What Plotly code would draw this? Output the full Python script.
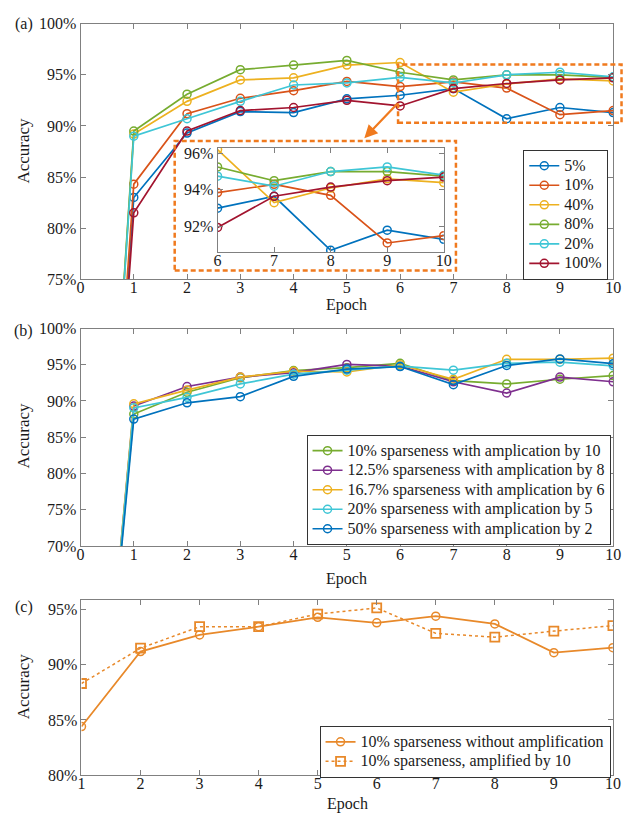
import plotly.graph_objects as go

W, H = 631, 820

# ---------------- data ----------------
epochs = [0, 1, 2, 3, 4, 5, 6, 7, 8, 9, 10]
epochs_c = [1, 2, 3, 4, 5, 6, 7, 8, 9, 10]

# panel (a)
a_names = ["5%", "10%", "40%", "80%", "20%", "100%"]
a_5 = [10, 83.0, 89.3, 91.4, 91.3, 92.65, 93.0, 93.65, 90.7, 91.8, 91.3]
a_10 = [10, 84.3, 91.2, 92.7, 93.45, 94.35, 93.85, 94.3, 93.7, 91.1, 91.5]
a_40 = [10, 89.2, 92.4, 94.5, 94.7, 95.95, 96.2, 93.3, 94.1, 94.6, 94.4]
a_80 = [10, 89.5, 93.1, 95.5, 95.95, 96.4, 95.25, 94.5, 95.0, 95.0, 94.75]
a_20 = [10, 89.0, 90.7, 92.4, 94.0, 94.2, 94.75, 94.2, 95.0, 95.25, 94.8]
a_100 = [10, 81.5, 89.5, 91.5, 91.8, 92.5, 91.95, 93.65, 94.15, 94.5, 94.7]
a_series = [a_5, a_10, a_40, a_80, a_20, a_100]
a_colors = ["#0072BD", "#D95319", "#EDB120", "#77AC30", "#3FC6D6", "#A2142F"]

# inset tick labels
inset_ticks = [92, 94, 96]
inset_ticktext = ["92%", "94%", "96%"]

# panel (b)
b_names = ["10% sparseness with amplication by 10",
           "12.5% sparseness with amplication by 8",
           "16.7% sparseness with amplication by 6",
           "20% sparseness with amplication by 5",
           "50% sparseness with amplication by 2"]
b_10 = [10, 88.2, 91.2, 93.2, 94.2, 94.6, 95.2, 92.8, 92.35, 93.0, 93.5]
b_125 = [10, 89.3, 92.0, 93.3, 93.9, 95.05, 94.8, 92.65, 91.1, 93.3, 92.65]
b_167 = [10, 89.6, 91.5, 93.3, 94.1, 94.0, 95.0, 93.0, 95.75, 95.75, 95.9]
b_20 = [10, 89.05, 90.5, 92.35, 93.7, 94.25, 94.8, 94.25, 95.2, 95.35, 94.85]
b_50 = [10, 87.5, 89.75, 90.6, 93.4, 94.4, 94.75, 92.25, 94.9, 95.8, 95.15]
b_series = [b_10, b_125, b_167, b_20, b_50]
b_colors = ["#77AC30", "#7E2F8E", "#EDB120", "#3FC6D6", "#0072BD"]

# panel (c)
c_names = ["10% sparseness without amplification", "10% sparseness, amplified by 10"]
c_no = [84.4, 91.2, 92.7, 93.45, 94.3, 93.8, 94.4, 93.7, 91.1, 91.55]
c_amp = [88.3, 91.5, 93.45, 93.45, 94.6, 95.15, 92.85, 92.5, 93.05, 93.55]
c_color = "#E8892A"
box_color = "#F07A1E"

FONT = "Times New Roman, Liberation Serif, Tinos, serif"
TXT = "#1a1a1a"
AX = "#808080"
LEG_FS = 12.7   # controls legend row spacing
NAME_FS = 16    # actual legend text size


def px(x):
    return x / W


def py(y):
    return 1 - y / H


def lname(s):
    return '<span style="font-size:%dpx">%s</span>' % (NAME_FS, s)


fig = go.Figure()

mk = lambda col: dict(symbol="circle-open", size=8, color=col, line=dict(width=1.5))

# panel (a) main
for name, ys, col in zip(a_names, a_series, a_colors):
    fig.add_trace(go.Scatter(x=epochs, y=ys, name=lname(name), mode="lines+markers",
                             line=dict(color=col, width=1.7), marker=mk(col),
                             xaxis="x", yaxis="y", legend="legend"))
# inset
for name, ys, col in zip(a_names, a_series, a_colors):
    fig.add_trace(go.Scatter(x=epochs[6:], y=ys[6:], name=name, mode="lines+markers",
                             line=dict(color=col, width=1.7), marker=mk(col),
                             xaxis="x4", yaxis="y4", showlegend=False))
# panel (b)
for name, ys, col in zip(b_names, b_series, b_colors):
    fig.add_trace(go.Scatter(x=epochs, y=ys, name=lname(name), mode="lines+markers",
                             line=dict(color=col, width=1.7), marker=mk(col),
                             xaxis="x2", yaxis="y2", legend="legend2"))
# panel (c)
fig.add_trace(go.Scatter(x=epochs_c, y=c_no, name=lname(c_names[0]), mode="lines+markers",
                         line=dict(color=c_color, width=1.8), marker=mk(c_color),
                         xaxis="x3", yaxis="y3", legend="legend3"))
fig.add_trace(go.Scatter(x=epochs_c, y=c_amp, name=lname(c_names[1]), mode="lines+markers",
                         line=dict(color=c_color, width=1.5, dash="dot"),
                         marker=dict(symbol="square-open", size=9, color=c_color, line=dict(width=1.8)),
                         xaxis="x3", yaxis="y3", legend="legend3"))

tickfont = dict(family=FONT, size=16, color=TXT)


def ax_common(**kw):
    d = dict(showline=True, linecolor=AX, linewidth=1, mirror="ticks", ticks="inside",
             ticklen=5, tickcolor=AX, tickwidth=1, showgrid=False, zeroline=False,
             tickfont=tickfont, fixedrange=True)
    d.update(kw)
    return d


def leg(x, y):
    return dict(x=px(x), y=py(y), xanchor="right", yanchor="top", bgcolor="white",
                bordercolor="#333", borderwidth=1, font=dict(family=FONT, size=LEG_FS, color=TXT),
                tracegroupgap=0, itemwidth=30)


fig.update_layout(
    width=W, height=H, margin=dict(l=0, r=0, t=0, b=0),
    paper_bgcolor="white", plot_bgcolor="white",
    font=dict(family=FONT, size=16, color=TXT),
    xaxis=ax_common(domain=[px(78), px(621)], range=[0, 10], dtick=1, anchor="y", ticklabelstandoff=-6),
    yaxis=ax_common(domain=[py(277), py(16)], range=[75, 100], dtick=5, ticksuffix="%", anchor="x"),
    xaxis2=ax_common(domain=[px(78), px(621)], range=[0, 10], dtick=1, anchor="y2", ticklabelstandoff=-6),
    yaxis2=ax_common(domain=[py(549.3), py(327.3)], range=[70, 100], dtick=5, ticksuffix="%", anchor="x2"),
    xaxis3=ax_common(domain=[px(79), px(620.7)], range=[1, 10], dtick=1, anchor="y3", ticklabelstandoff=-6),
    yaxis3=ax_common(domain=[py(783.3), py(605)], range=[80, 95.83], dtick=5, ticksuffix="%", anchor="x3"),
    xaxis4=ax_common(domain=[px(217.7), px(448.3)], range=[6, 10], dtick=1, anchor="y4", ticklabelstandoff=-6),
    yaxis4=ax_common(domain=[py(249.3), py(142.7)], range=[90.6, 96.3], tickmode="array",
                     tickvals=inset_ticks, ticktext=inset_ticktext, anchor="x4"),
    legend=leg(616, 145),
    legend2=leg(618.3, 436),
    legend3=leg(618.3, 733.3),
)

# dashed boxes
dash = "5px,3px"
fig.add_shape(type="rect", xref="paper", yref="paper", x0=px(401.7), x1=px(629.5),
              y0=py(117.3), y1=py(57.7), line=dict(color=box_color, width=2.5, dash=dash), layer="above")
fig.add_shape(type="rect", xref="paper", yref="paper", x0=px(174), x1=px(460.7),
              y0=py(268), y1=py(135.7), line=dict(color=box_color, width=2.5, dash=dash), layer="above")
# arrow
fig.add_annotation(xref="paper", yref="paper", x=px(367.3), y=py(133), ax=34.4, ay=-36,
                   axref="pixel", ayref="pixel", showarrow=True, arrowhead=2, arrowsize=1.2,
                   arrowwidth=2.2, arrowcolor=box_color, text="")


def text(t, x, y, angle=0, size=16):
    fig.add_annotation(xref="paper", yref="paper", x=px(x), y=py(y), text=t, showarrow=False,
                       textangle=angle, xanchor="center", yanchor="middle",
                       font=dict(family=FONT, size=size, color=TXT))


text("(a)", 20, 16)
text("(b)", 20, 330)
text("(c)", 20, 612)
text("Accuracy", 20, 146, angle=-90, size=17)
text("Accuracy", 20, 437, angle=-90, size=17)
text("Accuracy", 20, 693, angle=-90, size=17)
text("Epoch", 349, 303)
text("Epoch", 349, 583)
text("Epoch", 350, 813)

fig.write_html("out.html")
